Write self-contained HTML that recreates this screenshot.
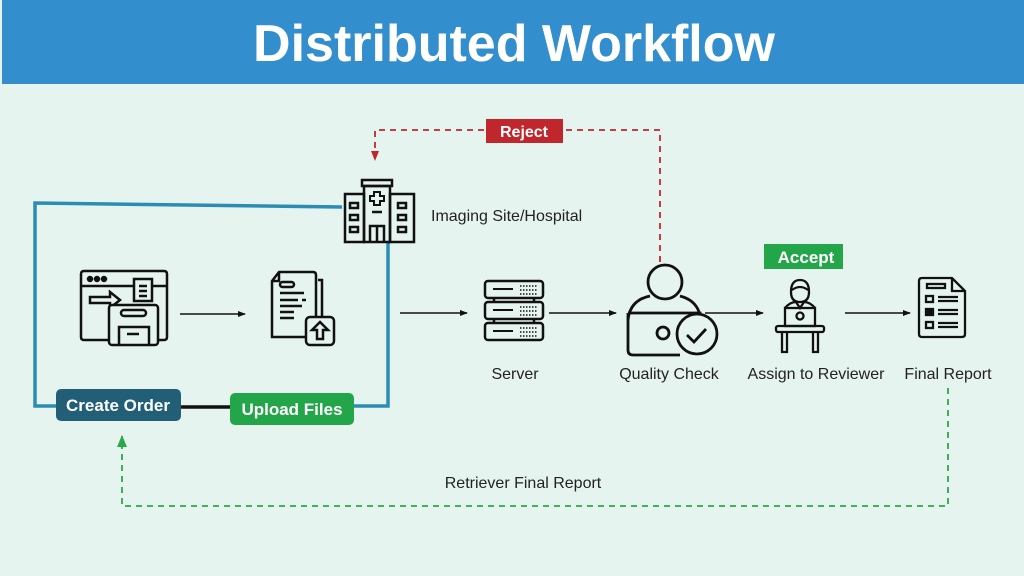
<!DOCTYPE html>
<html><head><meta charset="utf-8"><style>
html,body{margin:0;padding:0;background:#e6f4f0;}
svg{display:block}
text{font-family:"Liberation Sans",sans-serif}
</style></head><body>
<svg width="1024" height="576" viewBox="0 0 1024 576" xmlns="http://www.w3.org/2000/svg">
<defs>
<marker id="ab" markerWidth="8" markerHeight="8" refX="7" refY="4" orient="auto" markerUnits="userSpaceOnUse"><path d="M0,1 L8,4 L0,7z" fill="#111"/></marker>
<marker id="ar" markerWidth="10" markerHeight="10" refX="9" refY="5" orient="auto" markerUnits="userSpaceOnUse"><path d="M0,1 L10,5 L0,9z" fill="#c0272d"/></marker>
<marker id="ag" markerWidth="12" markerHeight="12" refX="11" refY="6" orient="auto" markerUnits="userSpaceOnUse"><path d="M0,1 L12,6 L0,11z" fill="#2aa84a"/></marker>
</defs>
<rect x="0" y="0" width="1024" height="576" fill="#e6f4f0"/>
<rect x="2" y="0" width="1022" height="84" fill="#338ecd"/>
<text x="514" y="61" text-anchor="middle" font-size="52" font-weight="bold" fill="#fff">Distributed Workflow</text>

<path d="M660,262 V130 H375 V160" fill="none" stroke="#c0272d" stroke-width="1.8" stroke-dasharray="6,5" marker-end="url(#ar)"/>
<rect x="486" y="119" width="77" height="24" fill="#c0272d"/>
<text x="524" y="137" text-anchor="middle" font-size="16" font-weight="bold" fill="#fff">Reject</text>

<path d="M342,207 L35,203 V406 H56" fill="none" stroke="#2b8db4" stroke-width="3.5"/>
<path d="M388,243 V406 H354" fill="none" stroke="#2b8db4" stroke-width="3.5"/>
<line x1="181" y1="407" x2="230" y2="407" stroke="#111" stroke-width="3.5"/>
<rect x="56" y="389" width="125" height="32" rx="5" fill="#225f77"/>
<text x="118" y="411" text-anchor="middle" font-size="17" font-weight="bold" fill="#fff">Create Order</text>
<rect x="230" y="393" width="124" height="32" rx="5" fill="#23a64a"/>
<text x="292" y="415" text-anchor="middle" font-size="17" font-weight="bold" fill="#fff">Upload Files</text>

<g fill="none" stroke="#111" stroke-width="2.5">
<rect x="362" y="180" width="30" height="6"/>
<rect x="364" y="186" width="26" height="56"/>
<rect x="345" y="194" width="19" height="48"/>
<rect x="390" y="194" width="24" height="48"/>
<path d="M374,192 h6 v4 h4 v5 h-4 v4 h-6 v-4 h-4 v-5 h4z" stroke-width="2"/>
<line x1="372" y1="212" x2="382" y2="212"/>
<path d="M370,242 V226 H384 V242 M377,226 V242"/>
<rect x="350" y="203" width="8" height="5"/><rect x="350" y="215" width="8" height="5"/><rect x="350" y="227" width="8" height="5"/>
<rect x="398" y="203" width="8" height="5"/><rect x="398" y="215" width="8" height="5"/><rect x="398" y="227" width="8" height="5"/>
</g>
<text x="431" y="221" font-size="16" fill="#222">Imaging Site/Hospital</text>

<g fill="none" stroke="#111" stroke-width="2.5">
<path d="M120,340 H84 Q81,340 81,337 V274 Q81,271 84,271 H164 Q167,271 167,274 V337 Q167,340 164,340 H158"/>
<line x1="81" y1="286" x2="167" y2="286"/>
<circle cx="90" cy="279" r="2" fill="#111"/><circle cx="97" cy="279" r="2" fill="#111"/><circle cx="104" cy="279" r="2" fill="#111"/>
<rect x="134" y="279" width="18" height="22" fill="#e6f4f0"/>
<path d="M139,286 h8 M139,291 h8 M139,296 h8"/>
<path d="M90,297 h20 v-5 l10,8 l-10,8 v-5 h-20z"/>
<rect x="109" y="305" width="49" height="40" rx="3" fill="#e6f4f0"/>
<rect x="121" y="310" width="25" height="6" rx="3"/>
<path d="M119,345 V327 H149 V345 M127,334 h12"/>
</g>
<line x1="180" y1="314" x2="245" y2="314" stroke="#111" stroke-width="1.5" marker-end="url(#ab)"/>

<g fill="none" stroke="#111" stroke-width="2.5">
<path d="M318,280 h4 v59 h-10"/>
<path d="M279,272 H313 Q316,272 316,275 V337 H272 V281z M279,272 V281 H272"/>
<rect x="280" y="282" width="14" height="5" rx="2.5"/>
<path d="M280,293 h24 M280,300 h18 M302,300 h4 M280,306 h22 M280,312 h14 M280,318 h14"/>
<rect x="306" y="317" width="28" height="28" rx="4" fill="#e6f4f0"/>
<path d="M320,322 l8,8 h-5 v9 h-6 v-9 h-5z"/>
</g>
<line x1="400" y1="313" x2="467" y2="313" stroke="#111" stroke-width="1.5" marker-end="url(#ab)"/>

<g fill="none" stroke="#111" stroke-width="2.5">
<rect x="485" y="281" width="58" height="17" rx="3"/>
<rect x="485" y="302" width="58" height="17" rx="3"/>
<rect x="485" y="323" width="58" height="17" rx="3"/>
<path d="M494,298 v4 M534,298 v4 M494,319 v4 M534,319 v4"/>
<g stroke-width="2"><path d="M493,289 h20 M493,310 h20 M493,331 h20"/></g>
<g stroke-width="1.5" stroke-dasharray="1.5,1.5"><path d="M520,286 h18 M520,290 h18 M520,294 h18 M520,307 h18 M520,311 h18 M520,315 h18 M520,328 h18 M520,332 h18 M520,336 h18"/></g>
</g>
<line x1="549" y1="313" x2="616" y2="313" stroke="#111" stroke-width="1.5" marker-end="url(#ab)"/>

<g fill="none" stroke="#111" stroke-width="2.8">
<circle cx="665" cy="282" r="17"/>
<path d="M628,320 Q630,300 650,296 M680,296 Q695,300 699,312"/>
<path d="M628,313 H700 V320 M628,313 V350 Q628,355 633,355 H680"/>
<circle cx="663" cy="333" r="6"/>
<circle cx="697" cy="334" r="20" fill="#e6f4f0"/>
<path d="M687,335 l7,7 l12,-13"/>
</g>
<line x1="705" y1="313" x2="763" y2="313" stroke="#111" stroke-width="1.5" marker-end="url(#ab)"/>

<rect x="764" y="244" width="79" height="25" fill="#23a64a"/>
<text x="806" y="263" text-anchor="middle" font-size="17" font-weight="bold" fill="#fff">Accept</text>

<g fill="none" stroke="#111" stroke-width="2.3">
<path d="M791,292 Q791,280 800,280 Q809,280 809,292 Q809,302 800,302 Q791,302 791,292z"/>
<path d="M792,290 Q800,284 808,290"/>
<path d="M785,308 Q790,302 796,302 L800,308 L804,302 Q810,302 815,308"/>
<rect x="785" y="308" width="30" height="18"/>
<circle cx="800" cy="316" r="3.5"/>
<rect x="776" y="326" width="48" height="6" rx="2"/>
<path d="M782,332 V352 H787 V332 M813,332 V352 H818 V332"/>
</g>
<line x1="845" y1="313" x2="910" y2="313" stroke="#111" stroke-width="1.5" marker-end="url(#ab)"/>

<g fill="none" stroke="#111" stroke-width="2.3">
<path d="M922,278 H952 L965,291 V334 Q965,337 962,337 H922 Q919,337 919,334 V281 Q919,278 922,278z M952,278 V291 H965"/>
<rect x="927" y="284" width="18" height="4"/>
<rect x="926" y="296" width="7" height="6"/><path d="M938,297 h20 M938,301 h20"/>
<rect x="926" y="309" width="7" height="6" fill="#111"/><path d="M938,310 h20 M938,314 h20"/>
<rect x="926" y="322" width="7" height="6"/><path d="M938,323 h20 M938,327 h20"/>
</g>

<g font-size="16" fill="#222" text-anchor="middle">
<text x="515" y="379">Server</text>
<text x="669" y="379">Quality Check</text>
<text x="816" y="379">Assign to Reviewer</text>
<text x="948" y="379">Final Report</text>
<text x="523" y="488">Retriever Final Report</text>
</g>

<path d="M948,388 V506 H122 V436" fill="none" stroke="#2aa84a" stroke-width="1.8" stroke-dasharray="6,5" marker-end="url(#ag)"/>
</svg>
</body></html>
